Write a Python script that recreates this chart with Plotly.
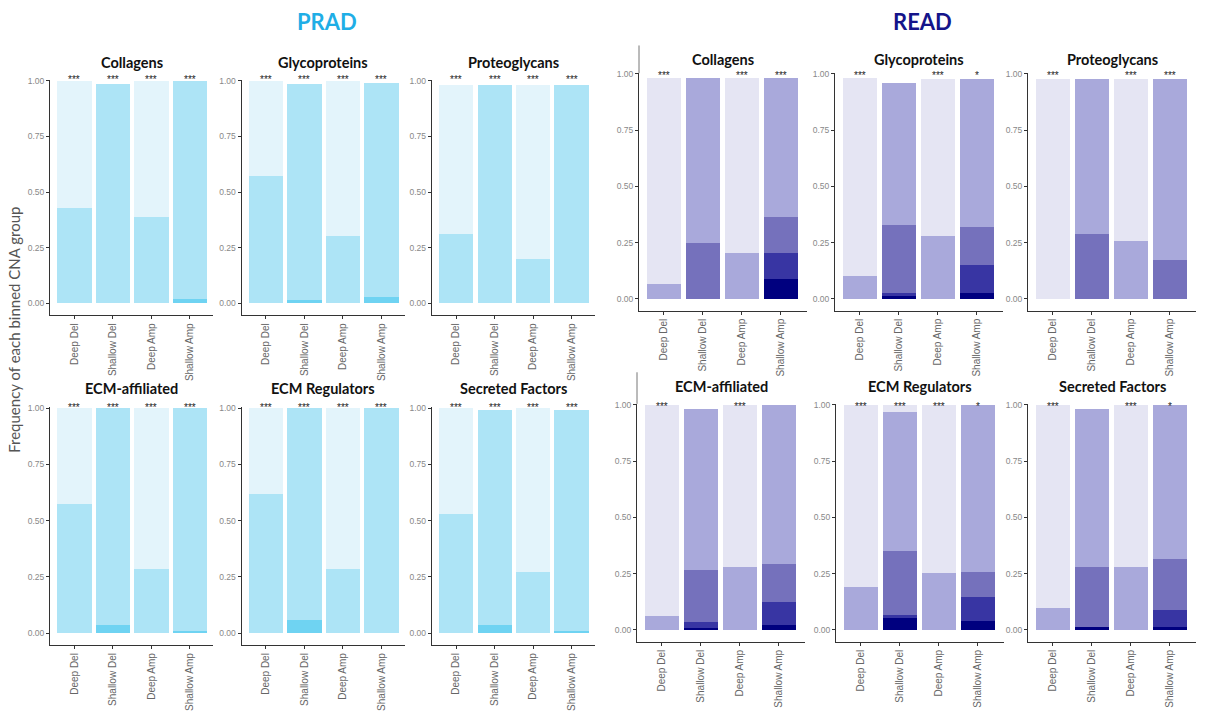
import plotly.graph_objects as go

W, H = 1206, 711

categories = ["Deep Del", "Shallow Del", "Deep Amp", "Shallow Amp"]
tick_vals = [0, 0.25, 0.5, 0.75, 1.0]
tick_text = ["0.00", "0.25", "0.50", "0.75", "1.00"]

# colours: bin0 (lightest, top of stack) ... darkest (bottom)
prad_colors = ["#e3f4fb", "#ade4f6", "#6fd3f2"]
read_colors = ["#e5e5f3", "#a9a9db", "#7571bc", "#3835a3", "#00007f"]

# ---- PRAD values: rows = bin0, bin1, bin2 ; columns = categories
prad_collagens = [[0.57, 0.0, 0.61, 0.0],
                  [0.43, 0.987, 0.39, 0.98],
                  [0.0, 0.0, 0.0, 0.02]]
prad_glycoproteins = [[0.43, 0.0, 0.695, 0.0],
                      [0.57, 0.972, 0.305, 0.96],
                      [0.0, 0.015, 0.0, 0.03]]
prad_proteoglycans = [[0.668, 0.0, 0.782, 0.0],
                      [0.314, 0.982, 0.20, 0.982],
                      [0.0, 0.0, 0.0, 0.0]]
prad_ecm_affiliated = [[0.425, 0.0, 0.715, 0.0],
                       [0.575, 0.965, 0.285, 0.988],
                       [0.0, 0.035, 0.0, 0.012]]
prad_ecm_regulators = [[0.38, 0.0, 0.715, 0.0],
                       [0.62, 0.94, 0.285, 1.0],
                       [0.0, 0.06, 0.0, 0.0]]
prad_secreted = [[0.47, 0.0, 0.73, 0.0],
                 [0.53, 0.955, 0.27, 0.982],
                 [0.0, 0.035, 0.0, 0.008]]

# ---- READ values: rows = bin0 .. bin4
read_collagens = [[0.915, 0.0, 0.778, 0.0],
                  [0.066, 0.732, 0.203, 0.618],
                  [0.0, 0.249, 0.0, 0.16],
                  [0.0, 0.0, 0.0, 0.115],
                  [0.0, 0.0, 0.0, 0.088]]
read_glycoproteins = [[0.88, 0.0, 0.697, 0.0],
                      [0.10, 0.63, 0.278, 0.656],
                      [0.0, 0.305, 0.0, 0.168],
                      [0.0, 0.01, 0.0, 0.125],
                      [0.0, 0.015, 0.0, 0.026]]
read_proteoglycans = [[0.975, 0.0, 0.717, 0.0],
                      [0.0, 0.688, 0.258, 0.802],
                      [0.0, 0.287, 0.0, 0.173],
                      [0.0, 0.0, 0.0, 0.0],
                      [0.0, 0.0, 0.0, 0.0]]
read_ecm_affiliated = [[0.936, 0.0, 0.719, 0.0],
                       [0.064, 0.717, 0.281, 0.706],
                       [0.0, 0.23, 0.0, 0.171],
                       [0.0, 0.025, 0.0, 0.10],
                       [0.0, 0.01, 0.0, 0.023]]
read_ecm_regulators = [[0.81, 0.03, 0.749, 0.0],
                       [0.19, 0.62, 0.251, 0.741],
                       [0.0, 0.285, 0.0, 0.114],
                       [0.0, 0.01, 0.0, 0.103],
                       [0.0, 0.055, 0.0, 0.042]]
read_secreted = [[0.904, 0.0, 0.719, 0.0],
                 [0.096, 0.70, 0.281, 0.683],
                 [0.0, 0.268, 0.0, 0.229],
                 [0.0, 0.0, 0.0, 0.076],
                 [0.0, 0.013, 0.0, 0.012]]

# significance labels
prad_stars = ["***", "***", "***", "***"]
read_stars_collagens = ["***", "", "***", "***"]
read_stars_glycoproteins = ["***", "", "***", "*"]
read_stars_proteoglycans = ["***", "", "***", "***"]
read_stars_ecm_affiliated = ["***", "", "***", ""]
read_stars_ecm_regulators = ["***", "***", "***", "*"]
read_stars_secreted = ["***", "", "***", "*"]

panel_titles = ["Collagens", "Glycoproteins", "Proteoglycans",
                "ECM-affiliated", "ECM Regulators", "Secreted Factors"]

# geometry in pixels
PRAD_X = [50, 241.5, 431.7]
READ_X_ROW1 = [639, 835, 1028]
READ_X_ROW2 = [637, 836, 1028]

panels = []
prad_data = [prad_collagens, prad_glycoproteins, prad_proteoglycans,
             prad_ecm_affiliated, prad_ecm_regulators, prad_secreted]
read_data = [read_collagens, read_glycoproteins, read_proteoglycans,
             read_ecm_affiliated, read_ecm_regulators, read_secreted]
read_stars = [read_stars_collagens, read_stars_glycoproteins, read_stars_proteoglycans,
              read_stars_ecm_affiliated, read_stars_ecm_regulators, read_stars_secreted]

for i in range(6):
    row = i // 3
    col = i % 3
    y1, y0, ty = (77.7, 303.3, 59.0) if row == 0 else (409.3, 637.3, 389.0)
    panels.append(dict(x0=PRAD_X[col], w=163, y1=y1, y0=y0, ty=ty,
                       xr=[-0.636, 3.6], data=prad_data[i], colors=prad_colors,
                       stars=prad_stars, title=panel_titles[i], starpx=y1 - 4))
for i in range(6):
    row = i // 3
    col = i % 3
    if row == 0:
        x0 = READ_X_ROW1[col]
        y1, y0, ty = 70.7, 298.7, 56.5
    else:
        x0 = READ_X_ROW2[col]
        y1, y0, ty = 406, 634, 387
    panels.append(dict(x0=x0, w=168, y1=y1, y0=y0, ty=ty,
                       xr=[-0.64, 3.67], data=read_data[i], colors=read_colors,
                       stars=read_stars[i], title=panel_titles[i], starpx=y1 - 1))

fig = go.Figure()
layout = dict(
    width=W, height=H, margin=dict(l=0, r=0, t=0, b=0),
    paper_bgcolor="white", plot_bgcolor="white",
    barmode="stack", bargap=0.1, showlegend=False,
    font=dict(family="Liberation Sans, Arial", color="#555"),
)
annotations = []
shapes = []

for k, p in enumerate(panels):
    idx = k + 1
    xa = "x" if idx == 1 else f"x{idx}"
    ya = "y" if idx == 1 else f"y{idx}"
    scale = p["y0"] - p["y1"]
    ymin = -12.0 / scale
    ymax = 1.003
    top_px = p["y0"] - ymax * scale
    bot_px = p["y0"] - ymin * scale
    dom_x = [p["x0"] / W, (p["x0"] + p["w"]) / W]
    dom_y = [1 - bot_px / H, 1 - top_px / H]
    nb = len(p["data"])
    for b in range(nb - 1, -1, -1):
        fig.add_trace(go.Bar(
            x=categories, y=p["data"][b], marker=dict(color=p["colors"][b], line=dict(width=0)),
            xaxis=xa, yaxis=ya, width=0.89, hoverinfo="skip"))
    # significance stars: x on the category axis, y relative to the plot domain
    star_frac = (bot_px - (p["starpx"] + 3)) / (bot_px - top_px)
    for c, s in zip(categories, p["stars"]):
        if s:
            annotations.append(dict(
                text=s, x=c, y=star_frac, xref=xa, yref=f"{ya} domain", showarrow=False,
                xanchor="center", yanchor="middle",
                font=dict(size=10, color="#222", family="Liberation Sans, Arial")))
    axis_common = dict(showgrid=False, zeroline=False, showline=True, linecolor="#333",
                       linewidth=1, ticks="outside", ticklen=3, tickcolor="#333",
                       fixedrange=True)
    layout["xaxis" if idx == 1 else f"xaxis{idx}"] = dict(
        axis_common, domain=dom_x, anchor=ya, range=p["xr"], type="category",
        categoryorder="array", categoryarray=categories, tickangle=-90,
        tickfont=dict(size=10, color="#666", family="Liberation Sans, Arial"))
    layout["yaxis" if idx == 1 else f"yaxis{idx}"] = dict(
        axis_common, domain=dom_y, anchor=xa, range=[ymin, ymax],
        tickvals=tick_vals, ticktext=tick_text,
        tickfont=dict(size=8.5, color="#888", family="Liberation Sans, Arial"))
    annotations.append(dict(
        text=f"<b>{p['title']}</b>", x=(p["x0"] + p["w"] / 2) / W, y=1 - p["ty"] / H,
        xref="paper", yref="paper", xanchor="center", yanchor="middle", showarrow=False,
        font=dict(family="Lato", size=14.5, color="#111")))

# group titles
annotations.append(dict(text="<b>PRAD</b>", x=327 / W, y=1 - 18 / H, xref="paper", yref="paper",
                        showarrow=False, xanchor="center", yanchor="middle",
                        font=dict(family="Lato", size=22, color="#1faee6")))
annotations.append(dict(text="<b>READ</b>", x=922 / W, y=1 - 18 / H, xref="paper", yref="paper",
                        showarrow=False, xanchor="center", yanchor="middle",
                        font=dict(family="Lato", size=22, color="#14148a")))
annotations.append(dict(text="Frequency of each binned CNA group", x=14 / W, y=1 - 330 / H,
                        xref="paper", yref="paper", showarrow=False, textangle=-90,
                        xanchor="center", yanchor="middle",
                        font=dict(family="Lato", size=15, color="#555")))

# extended frame lines of the READ image
shapes.append(dict(type="line", xref="paper", yref="paper", x0=639 / W, x1=639 / W,
                   y0=1 - 42 / H, y1=1 - 70 / H, line=dict(color="#777", width=1)))
shapes.append(dict(type="line", xref="paper", yref="paper", x0=637 / W, x1=637 / W,
                   y0=1 - 373 / H, y1=1 - 405 / H, line=dict(color="#777", width=1)))

layout["annotations"] = annotations
layout["shapes"] = shapes
fig.update_layout(**layout)
fig.write_html("out.html")
